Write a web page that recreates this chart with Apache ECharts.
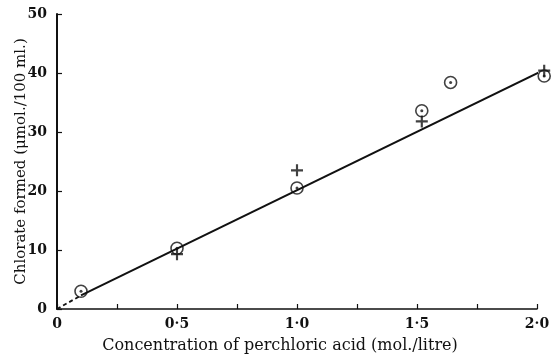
<!DOCTYPE html>
<html>
<head>
<meta charset="utf-8">
<script src="https://cdn.jsdelivr.net/npm/echarts@6/dist/echarts.min.js"></script>
<style>
  html, body { margin: 0; padding: 0; background: #fff; }
  #main { width: 558px; height: 356px; }
</style>
</head>
<body>
<div id="main"></div>
<script>
// values
var circlePoints = [[0.1, 3.0], [0.5, 10.3], [1.0, 20.5], [1.52, 33.6], [1.64, 38.4], [2.03, 39.5]];
var plusPoints = [[0.5, 9.3], [1.0, 23.5], [1.52, 31.8], [2.03, 40.4]];
var fitSolid = [[0.1, 2.3], [2.12, 42.3]];
var fitDashed = [[0, 0], [0.1, 2.3]];
var xTickLabels = { '0': '0', '0.5': '0·5', '1': '1·0', '1.5': '1·5', '2': '2·0' };
var yTickLabels = ['0', '10', '20', '30', '40', '50'];

var serif = 'DejaVu Serif';
var chartDom = document.getElementById('main');
var myChart = echarts.init(chartDom, null, { renderer: 'canvas' });

var plusPath = 'path://M4.1,0h1.8v4.1h4.1v1.8h-4.1v4.1h-1.8v-4.1h-4.1v-1.8h4.1z';

var option = {
    backgroundColor: '#fff',
    animation: false,
    grid: { left: 57, right: 21, top: 14, bottom: 47, outerBoundsMode: 'none' },
    xAxis: {
        type: 'value',
        min: 0,
        max: 2,
        interval: 0.25,
        name: 'Concentration of perchloric acid (mol./litre)',
        nameLocation: 'middle',
        nameGap: 29,
        nameMoveOverlap: false,
        nameTextStyle: { fontFamily: serif, fontSize: 16, color: '#111', padding: [0, 34, 0, 0] },
        axisLine: { lineStyle: { color: '#111', width: 1.5 } },
        axisTick: { inside: true, length: 5, lineStyle: { color: '#111', width: 1.2 } },
        axisLabel: {
            margin: 8,
            fontFamily: serif,
            fontSize: 14,
            fontWeight: 'bold',
            color: '#111',
            formatter: function (v) {
                var k = String(Math.round(v * 100) / 100);
                return xTickLabels[k] !== undefined ? xTickLabels[k] : '';
            }
        },
        splitLine: { show: false }
    },
    yAxis: {
        type: 'value',
        min: 0,
        max: 50,
        interval: 10,
        name: 'Chlorate formed (\u03bcmol./100 ml.)',
        nameLocation: 'middle',
        nameGap: 28,
        nameMoveOverlap: false,
        nameTextStyle: { fontFamily: serif, fontSize: 15, color: '#111' },
        axisLine: { show: true, lineStyle: { color: '#111', width: 2 } },
        axisTick: { show: true, inside: true, length: 5, lineStyle: { color: '#111', width: 1.2 } },
        axisLabel: {
            margin: 10,
            fontFamily: serif,
            fontSize: 14,
            fontWeight: 'bold',
            color: '#111',
            formatter: function (v) { return yTickLabels[Math.round(v / 10)]; }
        },
        splitLine: { show: false }
    },
    series: [
        {
            type: 'line',
            data: fitDashed,
            symbol: 'none',
            clip: false,
            lineStyle: { color: '#111', width: 1.8, type: [4, 3] }
        },
        {
            type: 'line',
            data: fitSolid,
            symbol: 'none',
            clip: false,
            lineStyle: { color: '#111', width: 2 }
        },
        {
            type: 'scatter',
            data: circlePoints,
            symbol: 'circle',
            symbolSize: 12,
            clip: false,
            itemStyle: { color: '#fff', borderColor: '#111', borderWidth: 1.6 }
        },
        {
            type: 'scatter',
            data: circlePoints,
            symbol: 'circle',
            symbolSize: 3,
            clip: false,
            itemStyle: { color: '#111' }
        },
        {
            type: 'scatter',
            data: plusPoints,
            symbol: plusPath,
            symbolSize: 12,
            clip: false,
            itemStyle: { color: '#111' }
        }
    ]
};
option && myChart.setOption(option);
</script>
</body>
</html>
